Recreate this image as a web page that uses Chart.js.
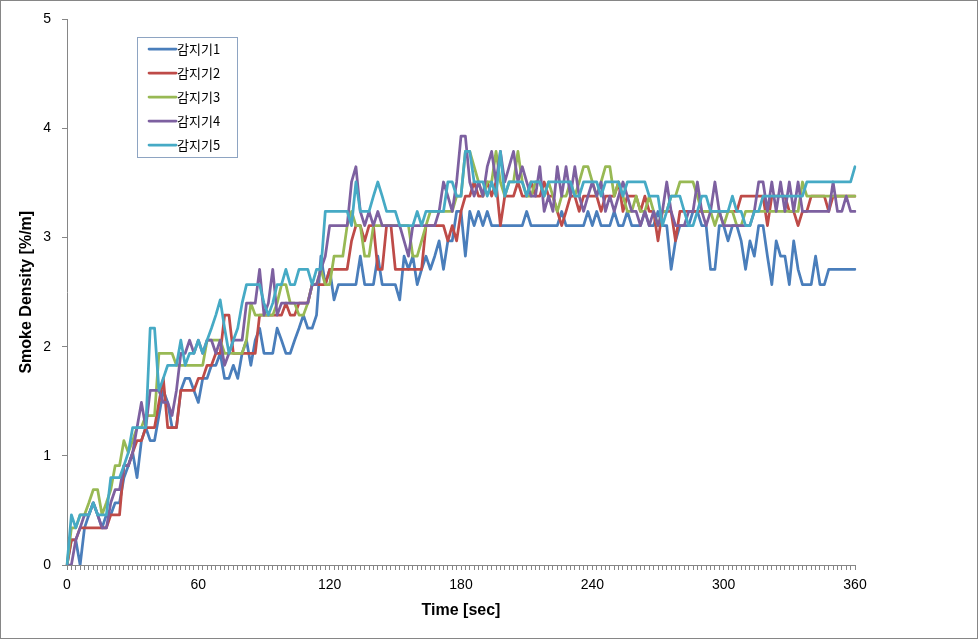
<!DOCTYPE html>
<html>
<head>
<meta charset="utf-8">
<script src="https://cdn.jsdelivr.net/npm/chart.js@4.4.1/dist/chart.umd.min.js"></script>
<style>
html, body { margin: 0; padding: 0; background: #fff; }
</style>
</head>
<body>
<canvas id="smokeChart" width="978" height="639"></canvas>
<script>
/***** DATA : START *****/
// time axis, every 2 sec from 0 to 360
var times = [];
for (var t = 0; t <= 360; t += 2) times.push(t);

var seriesNames = ['감지기1', '감지기2', '감지기3', '감지기4', '감지기5'];
var seriesColors = ['#4A7EBB', '#BE4B48', '#98B954', '#7D60A0', '#46AAC5'];

var sensor1 = [
    0, 0.23, 0.23, 0, 0.34, 0.46, 0.57, 0.46, 0.34, 0.46,
    0.46, 0.57, 0.57, 0.8, 0.91, 1.03, 0.8, 1.14, 1.26, 1.14,
    1.14, 1.37, 1.6, 1.49, 1.26, 1.26, 1.6, 1.71, 1.71, 1.6,
    1.49, 1.71, 1.71, 1.83, 1.83, 1.94, 1.71, 1.71, 1.83, 1.71,
    1.94, 2.06, 1.83, 2.06, 2.17, 1.94, 1.94, 1.94, 2.17, 2.06,
    1.94, 1.94, 2.06, 2.17, 2.29, 2.17, 2.17, 2.29, 2.83, 2.57,
    2.71, 2.43, 2.57, 2.57, 2.57, 2.57, 2.57, 2.83, 2.57, 2.57,
    2.57, 2.83, 2.57, 2.57, 2.57, 2.57, 2.43, 2.83, 2.71, 2.83,
    2.57, 2.71, 2.83, 2.71, 2.83, 2.97, 2.71, 2.97, 2.97, 3.24,
    3.24, 2.83, 3.24, 3.11, 3.24, 3.11, 3.24, 3.11, 3.11, 3.11,
    3.11, 3.11, 3.11, 3.11, 3.11, 3.24, 3.11, 3.11, 3.11, 3.11,
    3.11, 3.11, 3.11, 3.24, 3.11, 3.11, 3.11, 3.11, 3.11, 3.24,
    3.11, 3.24, 3.11, 3.11, 3.11, 3.24, 3.11, 3.11, 3.24, 3.11,
    3.11, 3.11, 3.24, 3.11, 3.11, 3.24, 3.11, 3.11, 2.71, 2.97,
    3.11, 3.11, 3.11, 3.24, 3.24, 3.11, 3.11, 2.71, 2.71, 3.11,
    3.11, 2.97, 3.11, 3.11, 2.97, 2.71, 2.97, 2.83, 3.11, 3.11,
    2.83, 2.57, 2.97, 2.83, 2.83, 2.57, 2.97, 2.71, 2.57, 2.57,
    2.57, 2.83, 2.57, 2.57, 2.71, 2.71, 2.71, 2.71, 2.71, 2.71,
    2.71
];

var sensor2 = [
    0, 0.23, 0.23, 0.34, 0.34, 0.34, 0.34, 0.34, 0.34, 0.34,
    0.46, 0.46, 0.46, 0.91, 0.91, 1.03, 1.14, 1.14, 1.26, 1.26,
    1.26, 1.49, 1.71, 1.26, 1.26, 1.26, 1.6, 1.6, 1.6, 1.6,
    1.71, 1.71, 1.83, 1.83, 1.94, 1.94, 2.29, 2.29, 1.94, 1.94,
    1.94, 1.94, 1.94, 1.94, 2.29, 2.29, 2.29, 2.29, 2.29, 2.29,
    2.4, 2.29, 2.29, 2.4, 2.4, 2.4, 2.57, 2.57, 2.57, 2.57,
    2.71, 2.71, 2.71, 2.71, 2.71, 2.97, 3.11, 3.11, 2.97, 3.11,
    3.11, 2.71, 2.71, 3.11, 3.11, 2.71, 2.71, 2.71, 2.71, 2.71,
    2.71, 2.71, 3.11, 3.11, 3.11, 3.11, 3.11, 2.97, 3.11, 2.97,
    3.24, 3.38, 3.38, 3.51, 3.38, 3.38, 3.51, 3.38, 3.51, 3.11,
    3.38, 3.38, 3.38, 3.51, 3.38, 3.38, 3.51, 3.38, 3.38, 3.51,
    3.38, 3.38, 3.24, 3.11, 3.24, 3.38, 3.38, 3.24, 3.38, 3.38,
    3.38, 3.38, 3.24, 3.38, 3.38, 3.38, 3.51, 3.24, 3.38, 3.38,
    3.38, 3.24, 3.38, 3.24, 3.24, 2.97, 3.24, 3.24, 3.24, 2.97,
    3.24, 3.24, 3.24, 3.24, 3.24, 3.24, 3.24, 3.24, 3.24, 3.24,
    3.24, 3.24, 3.24, 3.24, 3.38, 3.38, 3.38, 3.38, 3.38, 3.38,
    3.11, 3.38, 3.38, 3.38, 3.38, 3.24, 3.24, 3.11, 3.24, 3.24,
    3.38, 3.38, 3.38, 3.38, 3.24, 3.38, 3.38, 3.38, 3.38, 3.38,
    3.38
];

var sensor3 = [
    0, 0.34, 0.34, 0.46, 0.46, 0.57, 0.69, 0.69, 0.46, 0.57,
    0.69, 0.91, 0.91, 1.14, 1.03, 1.14, 1.26, 1.26, 1.37, 1.37,
    1.37, 1.94, 1.94, 1.94, 1.94, 1.83, 1.83, 1.83, 1.83, 1.83,
    1.83, 1.83, 2.06, 2.06, 2.06, 2.06, 1.94, 1.94, 1.94, 1.94,
    1.94, 2.06, 2.4, 2.29, 2.29, 2.29, 2.29, 2.29, 2.4, 2.57,
    2.57, 2.4, 2.4, 2.29, 2.29, 2.4, 2.57, 2.57, 2.71, 2.57,
    2.57, 2.83, 2.83, 2.83, 3.11, 3.24, 3.11, 3.11, 2.83, 2.83,
    3.11, 3.11, 3.11, 3.11, 3.11, 3.11, 3.11, 3.11, 3.11, 2.83,
    2.83, 2.97, 3.11, 3.24, 3.24, 3.24, 3.24, 3.24, 3.24, 3.38,
    3.38, 3.79, 3.79, 3.65, 3.51, 3.38, 3.51, 3.51, 3.79, 3.51,
    3.38, 3.51, 3.51, 3.79, 3.51, 3.38, 3.38, 3.51, 3.51, 3.38,
    3.51, 3.38, 3.24, 3.38, 3.38, 3.51, 3.38, 3.51, 3.65, 3.65,
    3.51, 3.38, 3.51, 3.65, 3.65, 3.38, 3.51, 3.38, 3.24, 3.24,
    3.38, 3.24, 3.24, 3.38, 3.24, 3.11, 3.24, 3.24, 3.38, 3.38,
    3.51, 3.51, 3.51, 3.51, 3.38, 3.24, 3.24, 3.24, 3.11, 3.24,
    3.11, 3.24, 3.24, 3.11, 3.11, 3.24, 3.24, 3.24, 3.24, 3.24,
    3.24, 3.24, 3.24, 3.24, 3.24, 3.24, 3.24, 3.24, 3.51, 3.38,
    3.38, 3.38, 3.38, 3.38, 3.38, 3.38, 3.38, 3.38, 3.38, 3.38,
    3.38
];

var sensor4 = [
    0, 0, 0.23, 0.34, 0.46, 0.46, 0.57, 0.46, 0.34, 0.34,
    0.57, 0.69, 0.69, 0.91, 0.91, 1.03, 1.26, 1.49, 1.26, 1.6,
    1.6, 1.6, 1.49, 1.49, 1.37, 1.6, 1.94, 1.94, 2.06, 1.94,
    2.06, 1.94, 2.06, 2.06, 1.94, 2.06, 1.83, 1.94, 2.06, 2.06,
    2.06, 2.4, 2.4, 2.4, 2.71, 2.29, 2.4, 2.71, 2.29, 2.4,
    2.4, 2.4, 2.4, 2.4, 2.4, 2.4, 2.57, 2.57, 2.71, 2.83,
    3.11, 3.11, 3.11, 3.11, 3.11, 3.51, 3.65, 3.24, 3.11, 3.24,
    3.11, 3.24, 3.11, 3.11, 3.11, 3.11, 3.11, 2.97, 2.83, 3.11,
    3.11, 3.11, 3.11, 3.11, 3.11, 3.24, 3.51, 3.38, 3.24, 3.51,
    3.93, 3.93, 3.51, 3.38, 3.51, 3.38, 3.65, 3.79, 3.51, 3.79,
    3.51, 3.65, 3.79, 3.51, 3.65, 3.51, 3.38, 3.38, 3.65, 3.24,
    3.38, 3.24, 3.65, 3.38, 3.65, 3.38, 3.65, 3.38, 3.24, 3.38,
    3.51, 3.38, 3.51, 3.24, 3.38, 3.24, 3.38, 3.51, 3.38, 3.24,
    3.24, 3.11, 3.24, 3.11, 3.24, 3.11, 3.24, 3.51, 3.24, 3.11,
    3.11, 3.11, 3.24, 3.24, 3.51, 3.24, 3.11, 3.24, 3.51, 3.24,
    3.11, 3.11, 3.11, 3.11, 3.11, 3.11, 3.11, 3.24, 3.51, 3.51,
    3.24, 3.51, 3.24, 3.51, 3.24, 3.51, 3.24, 3.51, 3.24, 3.24,
    3.24, 3.24, 3.24, 3.24, 3.24, 3.51, 3.24, 3.24, 3.38, 3.24,
    3.24
];

var sensor5 = [
    0, 0.46, 0.34, 0.46, 0.46, 0.46, 0.57, 0.46, 0.46, 0.46,
    0.8, 0.8, 0.8, 0.91, 1.03, 1.26, 1.26, 1.26, 1.26, 2.17,
    2.17, 1.6, 1.71, 1.83, 1.83, 1.83, 2.06, 1.83, 1.94, 1.94,
    2.06, 1.94, 2.06, 2.17, 2.29, 2.43, 2.17, 1.94, 2.06, 2.17,
    2.4, 2.57, 2.57, 2.57, 2.57, 2.4, 2.29, 2.4, 2.57, 2.57,
    2.71, 2.57, 2.57, 2.71, 2.71, 2.71, 2.57, 2.71, 2.71, 3.24,
    3.24, 3.24, 3.24, 3.24, 3.24, 3.11, 3.51, 3.24, 3.24, 3.24,
    3.38, 3.51, 3.38, 3.24, 3.24, 3.24, 3.11, 3.11, 3.11, 3.11,
    3.24, 3.11, 3.24, 3.24, 3.24, 3.24, 3.24, 3.51, 3.51, 3.38,
    3.38, 3.79, 3.79, 3.51, 3.51, 3.51, 3.38, 3.51, 3.38, 3.79,
    3.38, 3.51, 3.51, 3.51, 3.51, 3.38, 3.51, 3.51, 3.51, 3.38,
    3.51, 3.51, 3.51, 3.51, 3.51, 3.51, 3.38, 3.38, 3.51, 3.51,
    3.51, 3.51, 3.38, 3.51, 3.51, 3.51, 3.51, 3.38, 3.51, 3.51,
    3.51, 3.51, 3.51, 3.38, 3.38, 3.38, 3.11, 3.24, 3.38, 3.38,
    3.38, 3.24, 3.11, 3.11, 3.24, 3.38, 3.38, 3.24, 3.24, 3.24,
    3.24, 3.24, 3.38, 3.24, 3.24, 3.11, 3.11, 3.24, 3.24, 3.38,
    3.38, 3.38, 3.38, 3.38, 3.38, 3.38, 3.38, 3.38, 3.38, 3.51,
    3.51, 3.51, 3.51, 3.51, 3.51, 3.51, 3.51, 3.51, 3.51, 3.51,
    3.65
];

var yTicks = [0, 1, 2, 3, 4, 5];
/***** DATA : END *****/

var allSeries = [sensor1, sensor2, sensor3, sensor4, sensor5];
var datasets = [];
allSeries.forEach(function (values, i) {
    datasets.push({
        label: seriesNames[i],
        data: values,
        borderColor: seriesColors[i],
        backgroundColor: seriesColors[i],
        borderWidth: 2.75,
        borderJoinStyle: 'round',
        borderCapStyle: 'round',
        pointRadius: 0,
        tension: 0,
        fill: false,
        order: 4 - i   // later sensors drawn on top, like the original
    });
});

var axisGray = '#868686';

// frame around the whole picture + the floating legend box
var framePlugin = {
    id: 'frameAndLegend',
    afterDraw: function (chart) {
        var ctx = chart.ctx;
        ctx.save();
        ctx.strokeStyle = axisGray;
        ctx.lineWidth = 1;
        ctx.strokeRect(0.5, 0.5, chart.width - 1, chart.height - 1);

        // legend
        ctx.strokeStyle = '#8EA4C2';
        ctx.strokeRect(137.5, 37.5, 100, 120);
        chart.data.datasets.forEach(function (ds, i) {
            var y = 49 + i * 24;
            ctx.strokeStyle = ds.borderColor;
            ctx.lineWidth = 2.75;
            ctx.lineCap = 'round';
            ctx.beginPath();
            ctx.moveTo(149, y);
            ctx.lineTo(176, y);
            ctx.stroke();
            ctx.fillStyle = '#000';
            ctx.font = '13px "Noto Sans CJK KR"';
            ctx.textBaseline = 'middle';
            ctx.textAlign = 'left';
            ctx.fillText(ds.label, 177, y);
        });
        ctx.restore();
    }
};

var ctx = document.getElementById('smokeChart').getContext('2d');
var smokeChart = new Chart(ctx, {
    type: 'line',
    data: {
        labels: times,
        datasets: datasets
    },
    options: {
        responsive: false,
        animation: false,
        layout: { padding: { left: 0, top: 17, right: 123, bottom: 0 } },
        plugins: {
            legend: { display: false },
            tooltip: { enabled: false }
        },
        scales: {
            x: {
                type: 'category',
                offset: false,
                afterFit: function (scale) { scale.height = 74; },
                grid: { display: true, drawOnChartArea: false, drawTicks: true, tickLength: 5, color: axisGray, tickColor: axisGray },
                border: { color: axisGray, width: 1 },
                ticks: {
                    autoSkip: false,
                    maxRotation: 0,
                    minRotation: 0,
                    padding: 7,
                    color: '#000',
                    font: { family: '"Liberation Sans", Arial', size: 14 },
                    callback: function (value) {
                        var lbl = this.getLabelForValue(value);
                        return lbl % 60 === 0 ? lbl : '';
                    }
                },
                title: {
                    display: true,
                    text: 'Time [sec]',
                    color: '#000',
                    font: { family: '"Liberation Sans", Arial', size: 16, weight: 'bold' },
                    padding: { top: 0, bottom: 19 }
                }
            },
            y: {
                min: 0,
                max: 5,
                afterFit: function (scale) { scale.width = 67; },
                afterBuildTicks: function (scale) {
                    scale.ticks = yTicks.map(function (v) { return { value: v }; });
                },
                grid: { display: true, drawOnChartArea: false, drawTicks: true, tickLength: 5, color: axisGray, tickColor: axisGray },
                border: { color: axisGray, width: 1 },
                ticks: {
                    padding: 11,
                    color: '#000',
                    font: { family: '"Liberation Sans", Arial', size: 14 }
                },
                title: {
                    display: true,
                    text: 'Smoke Density [%/m]',
                    color: '#000',
                    font: { family: '"Liberation Sans", Arial', size: 16, weight: 'bold' },
                    padding: { top: 17, bottom: 0 }
                }
            }
        }
    },
    plugins: [framePlugin]
});
</script>
</body>
</html>
